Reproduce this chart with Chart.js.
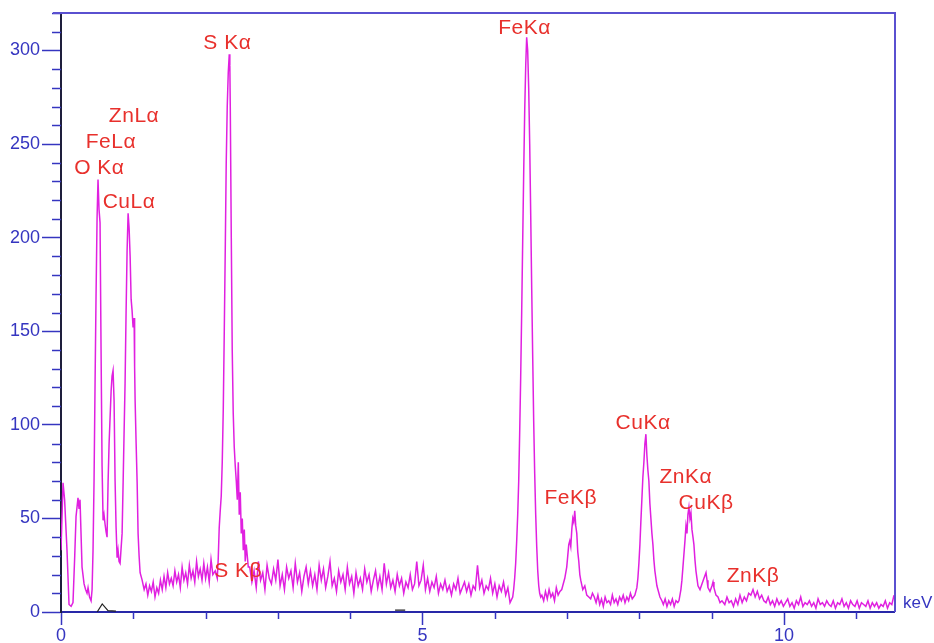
<!DOCTYPE html>
<html>
<head>
<meta charset="utf-8">
<title>EDS spectrum</title>
<script src="https://cdn.jsdelivr.net/npm/chart.js@4.4.0/dist/chart.umd.min.js"></script>
<style>
  html, body { margin: 0; padding: 0; background: #fff; }
  #wrap { width: 934px; height: 643px; }
</style>
</head>
<body>
<div id="wrap"><canvas id="spectrumChart" width="934" height="643"></canvas></div>
<script>
// --- spectrum data: [keV, counts] ---
const lowEnergyPeaks = [
  [0.000,33],[0.028,69],[0.050,60],[0.083,33],[0.111,4],[0.140,3],[0.166,5],[0.190,30],[0.208,51],[0.235,61],
  [0.250,55],[0.263,60],[0.291,24],[0.319,15],[0.340,12],[0.360,10],[0.374,13],[0.395,8],[0.416,6],[0.430,12],
  [0.443,33],[0.457,70],[0.471,122],[0.485,170],[0.499,211],[0.512,231],[0.526,215],[0.540,208],[0.554,140],[0.568,78],
  [0.582,49],[0.595,52],[0.609,47],[0.623,43],[0.637,40],[0.651,69],[0.665,90],[0.679,104],[0.693,118],[0.706,126],
  [0.720,129],[0.734,113],[0.748,70],[0.762,45],[0.776,29],[0.789,33],[0.803,27],[0.817,26],[0.831,34],[0.845,42],
  [0.859,69],[0.872,95],[0.886,122],[0.900,160],[0.914,193],[0.928,213],[0.942,205],[0.956,190],[0.970,167],[0.983,161],
  [0.997,152],[1.011,157],[1.018,131],[1.025,113],[1.039,90],[1.053,69],[1.066,42],[1.080,30],[1.094,21],[1.122,17]
];

const lowBackground = [
  [1.150,12],[1.175,15],[1.200,9],[1.225,14],[1.250,11],[1.275,16],[1.300,8],[1.325,13],[1.350,10],[1.375,17],
  [1.400,12],[1.425,19],[1.450,13],[1.475,21],[1.500,15],[1.525,18],[1.550,14],[1.575,22],[1.600,16],[1.625,20],
  [1.650,13],[1.675,24],[1.700,17],[1.725,21],[1.750,15],[1.775,25],[1.800,18],[1.825,22],[1.850,16],[1.875,27],
  [1.900,19],[1.925,23],[1.950,17],[1.975,26],[2.000,18],[2.025,24],[2.050,16],[2.075,28],[2.100,20]
];

const sulfurPeak = [
  [2.133,22],[2.161,18],[2.174,28],[2.188,45],[2.202,54],[2.216,62],[2.230,80],[2.244,108],[2.258,150],[2.272,195],
  [2.285,240],[2.299,270],[2.313,288],[2.327,298],[2.335,292],[2.341,270],[2.355,200],[2.368,140],[2.382,106],[2.396,88],
  [2.410,78],[2.424,70],[2.438,60],[2.452,80],[2.465,52],[2.479,64],[2.493,42],[2.507,50],[2.521,33],[2.535,44],
  [2.548,27],[2.562,36],[2.590,24]
];

const midBackground = [
  [2.61,24],[2.64,16],[2.67,22],[2.70,13],[2.73,27],[2.76,17],[2.79,21],[2.82,12],[2.85,25],[2.88,18],
  [2.91,15],[2.94,23],[2.97,17],[3.00,28],[3.03,14],[3.06,20],[3.09,12],[3.12,24],[3.15,18],[3.18,22],
  [3.21,13],[3.24,26],[3.27,16],[3.30,21],[3.33,11],[3.36,19],[3.39,24],[3.42,15],[3.45,22],[3.48,14],
  [3.51,20],[3.54,12],[3.57,25],[3.60,17],[3.63,23],[3.66,13],[3.69,19],[3.72,27],[3.75,14],[3.78,18],
  [3.81,11],[3.84,22],[3.87,16],[3.90,20],[3.93,12],[3.96,24],[3.99,15],[4.02,19],[4.05,10],[4.08,21],
  [4.11,14],[4.14,18],[4.17,12],[4.20,23],[4.23,16],[4.26,20],[4.29,11],[4.32,17],[4.35,22],[4.38,13],
  [4.41,19],[4.44,12],[4.47,26],[4.50,15],[4.53,21],[4.56,13],[4.59,17],[4.62,11],[4.65,20],[4.68,14],
  [4.71,18],[4.74,10],[4.77,16],[4.80,13],[4.83,20],[4.86,12],[4.89,15],[4.92,27],[4.95,14],[4.98,17],
  [5.01,25],[5.04,12],[5.07,18],[5.10,11],[5.13,16],[5.16,13],[5.19,19],[5.22,10],[5.25,15],[5.28,12],
  [5.31,17],[5.34,11],[5.37,14],[5.40,9],[5.43,15],[5.46,12],[5.49,18],[5.52,10],[5.55,13],[5.58,16],
  [5.61,11],[5.64,15],[5.67,9],[5.70,14],[5.73,12],[5.76,25],[5.79,13],[5.82,17],[5.85,10],[5.88,14],
  [5.91,12],[5.94,18],[5.97,10],[6.00,15],[6.03,8],[6.06,14],[6.09,11],[6.12,16],[6.15,9],[6.18,13],
  [6.21,5]
];

const ironPeaks = [
  [6.247,8],[6.260,12],[6.274,18],[6.288,26],[6.302,38],[6.316,52],[6.330,70],[6.343,95],[6.357,125],[6.371,160],
  [6.385,198],[6.399,235],[6.413,268],[6.427,292],[6.440,307],[6.454,300],[6.468,280],[6.482,250],[6.496,212],[6.510,172],
  [6.524,135],[6.537,102],[6.551,74],[6.565,52],[6.579,35],[6.593,22],[6.607,14],[6.620,10],[6.634,8],
  [6.650,9],[6.675,6],[6.700,11],[6.725,7],[6.750,12],[6.775,8],[6.800,10],[6.825,6],[6.850,13],[6.875,9],
  [6.900,11],[6.925,12],
  [6.939,14],[6.967,18],[6.994,24],[7.008,30],[7.022,36],[7.036,38],[7.050,35],[7.064,44],[7.078,50],[7.091,48],
  [7.105,54],[7.119,46],[7.133,42],[7.147,32],[7.161,27],[7.175,20],[7.188,17],[7.216,12],[7.244,14],[7.271,9],
  [7.299,8]
];

const copperZincPeaks = [
  [7.325,7],[7.350,10],[7.375,8],[7.400,5],[7.425,9],[7.450,4],[7.475,7],[7.500,3],[7.525,8],[7.550,5],
  [7.575,6],[7.600,4],[7.625,9],[7.650,5],[7.675,7],[7.700,4],[7.725,8],[7.750,6],[7.775,9],[7.800,5],
  [7.825,8],[7.850,6],[7.875,10],[7.900,7],
  [7.936,9],[7.964,13],[7.978,18],[7.992,26],[8.006,36],[8.019,48],[8.033,60],[8.047,72],[8.061,80],[8.075,90],
  [8.089,95],[8.102,84],[8.116,76],[8.130,70],[8.144,58],[8.158,50],[8.172,42],[8.186,36],[8.199,28],[8.213,22],
  [8.227,18],[8.241,14],[8.255,12],[8.283,8],[8.310,6],
  [8.330,4],[8.355,7],[8.380,3],[8.405,6],[8.430,4],[8.455,7],[8.480,3],[8.505,6],[8.530,5],
  [8.546,6],[8.573,12],[8.587,17],[8.601,24],[8.615,31],[8.629,38],[8.643,46],[8.657,42],[8.670,52],[8.684,56],
  [8.698,50],[8.712,53],[8.726,44],[8.740,40],[8.753,36],[8.767,28],[8.781,22],[8.795,18],[8.809,14],[8.837,12],
  [8.864,15],[8.892,18],[8.920,21],[8.934,17],[8.947,13],[8.975,11],[9.003,14],[9.017,16],[9.030,13],[9.058,9],
  [9.086,8],[9.114,5],[9.141,6]
];

const highBackground = [
  [9.18,4],[9.21,8],[9.24,5],[9.27,6],[9.30,3],[9.33,7],[9.36,4],[9.39,9],[9.42,5],
  [9.45,8],[9.48,6],[9.51,10],[9.54,9],[9.57,12],[9.60,8],[9.63,11],[9.66,7],[9.69,9],[9.72,6],
  [9.75,5],[9.78,8],[9.81,4],[9.84,6],[9.87,3],[9.90,7],[9.93,4],[9.96,6],[9.99,3],[10.02,5],
  [10.05,7],[10.08,3],[10.11,5],[10.14,2],[10.17,6],[10.20,4],[10.23,8],[10.26,3],[10.29,5],[10.32,4],
  [10.35,6],[10.38,3],[10.41,5],[10.44,2],[10.47,7],[10.50,4],[10.53,5],[10.56,3],[10.59,6],[10.62,4],
  [10.65,3],[10.68,6],[10.71,2],[10.74,5],[10.77,4],[10.80,7],[10.83,3],[10.86,5],[10.89,2],[10.92,6],
  [10.95,4],[10.98,3],[11.01,6],[11.04,2],[11.07,5],[11.10,4],[11.13,3],[11.16,6],[11.19,2],[11.22,5],
  [11.25,3],[11.28,5],[11.31,2],[11.34,4],[11.37,3],[11.40,6],[11.43,2],[11.46,5],[11.49,4],[11.52,9]
];

// black fitted background trace near the axis (null = gap)
const fitTrace = [[0.50,0],[0.57,4.3],[0.65,0.7],[0.76,0.5],[0.77,null],[4.62,1],[4.76,1]];

// peak identifications: name, label centre (keV, counts)
const peakNames = ['O K\u03b1', 'FeL\u03b1', 'ZnL\u03b1', 'CuL\u03b1', 'S K\u03b1', 'S K\u03b2',
                   'FeK\u03b1', 'FeK\u03b2', 'CuK\u03b1', 'ZnK\u03b1', 'CuK\u03b2', 'ZnK\u03b2'];
const peakLabelKeV = [0.53, 0.69, 1.01, 0.94, 2.30, 2.45, 6.41, 7.05, 8.05, 8.64, 8.92, 9.57];
const peakLabelCounts = [237, 251, 265, 219, 304, 22, 312, 61, 101, 72, 58, 19];

// axis ticks
const xTickValues = [0, 5, 10];
const xMinorTicks = [1, 2, 3, 4, 6, 7, 8, 9, 11];
const yTickValues = [0, 50, 100, 150, 200, 250, 300];
const yMinorTicks = [10, 20, 30, 40, 60, 70, 80, 90, 110, 120, 130, 140, 160, 170, 180, 190,
                     210, 220, 230, 240, 260, 270, 280, 290, 310, 320];
const X_MAX = 11.52;
const Y_MAX = 320;

// --- colours ---
const SPECTRUM_COLOR = '#e020e0';
const LABEL_RED = '#e8302c';
const AXIS_BLUE = '#3535c0';
const FRAME_COLOR = '#5a50d0';
const FONT = "'Liberation Sans', Arial, sans-serif";

const spectrum = [...lowEnergyPeaks, ...lowBackground, ...sulfurPeak, ...midBackground,
                  ...ironPeaks, ...copperZincPeaks, ...highBackground];

// 副刻度、外框、峰標示
const spectrumDecor = {
  id: 'spectrumDecor',
  beforeDatasetsDraw(chart) {
    const { ctx, chartArea: a, scales: { x, y } } = chart;
    ctx.save();
    ctx.strokeStyle = AXIS_BLUE;
    ctx.lineWidth = 1.5;
    yMinorTicks.forEach(v => {
      const py = Math.round(y.getPixelForValue(v)) + 0.5;
      ctx.beginPath();
      ctx.moveTo(a.left - 9, py);
      ctx.lineTo(a.left, py);
      ctx.stroke();
    });
    xMinorTicks.forEach(v => {
      const px = Math.round(x.getPixelForValue(v)) + 0.5;
      ctx.beginPath();
      ctx.moveTo(px, a.bottom);
      ctx.lineTo(px, a.bottom + 7);
      ctx.stroke();
    });
    ctx.strokeStyle = FRAME_COLOR;
    ctx.lineWidth = 2;
    ctx.beginPath();
    ctx.moveTo(a.left - 8, a.top);
    ctx.lineTo(a.right + 1, a.top);
    ctx.lineTo(a.right + 1, a.bottom);
    ctx.stroke();
    ctx.restore();
  },
  afterDatasetsDraw(chart) {
    const { ctx, chartArea: a, scales: { x, y } } = chart;
    ctx.save();
    ctx.font = `21px ${FONT}`;
    if ('letterSpacing' in ctx) ctx.letterSpacing = '0.5px';
    ctx.fillStyle = LABEL_RED;
    ctx.textAlign = 'center';
    ctx.textBaseline = 'middle';
    peakNames.forEach((name, i) => {
      ctx.fillText(name, x.getPixelForValue(peakLabelKeV[i]), y.getPixelForValue(peakLabelCounts[i]));
    });
    if ('letterSpacing' in ctx) ctx.letterSpacing = '0px';
    ctx.font = `17px ${FONT}`;
    ctx.fillStyle = AXIS_BLUE;
    ctx.textAlign = 'left';
    ctx.fillText('keV', a.right + 9, a.bottom - 9);
    ctx.restore();
  }
};

new Chart(document.getElementById('spectrumChart'), {
  type: 'line',
  data: {
    datasets: [{
      label: 'spectrum',
      data: spectrum.map(([e, c]) => ({ x: e, y: c })),
      borderColor: SPECTRUM_COLOR,
      borderWidth: 1.5,
      pointRadius: 0,
      tension: 0
    }, {
      label: 'fit',
      data: fitTrace.map(([e, c]) => ({ x: e, y: c })),
      borderColor: '#222222',
      borderWidth: 1.2,
      pointRadius: 0,
      spanGaps: false,
      tension: 0
    }]
  },
  options: {
    responsive: false,
    animation: false,
    layout: { padding: { top: 13, right: 40, left: 0, bottom: 0 } },
    plugins: { legend: { display: false }, tooltip: { enabled: false } },
    scales: {
      x: {
        type: 'linear',
        min: 0,
        max: X_MAX,
        afterBuildTicks: s => { s.ticks = xTickValues.map(v => ({ value: v })); },
        afterFit: s => { s.height = 31; },
        ticks: { color: AXIS_BLUE, font: { size: 18, family: FONT }, padding: 0, maxRotation: 0 },
        grid: { drawOnChartArea: false, drawTicks: true, tickLength: 13, tickColor: AXIS_BLUE, tickWidth: 1.5 },
        border: { color: '#2828a8', width: 2 }
      },
      y: {
        min: 0,
        max: Y_MAX,
        afterBuildTicks: s => { s.ticks = yTickValues.map(v => ({ value: v })); },
        afterFit: s => { s.width = 61; },
        ticks: { color: AXIS_BLUE, font: { size: 18, family: FONT }, padding: 2 },
        grid: { drawOnChartArea: false, drawTicks: true, tickLength: 19, tickColor: AXIS_BLUE, tickWidth: 1.5 },
        border: { color: '#1e1e3c', width: 2 }
      }
    }
  },
  plugins: [spectrumDecor]
});
</script>
</body>
</html>
